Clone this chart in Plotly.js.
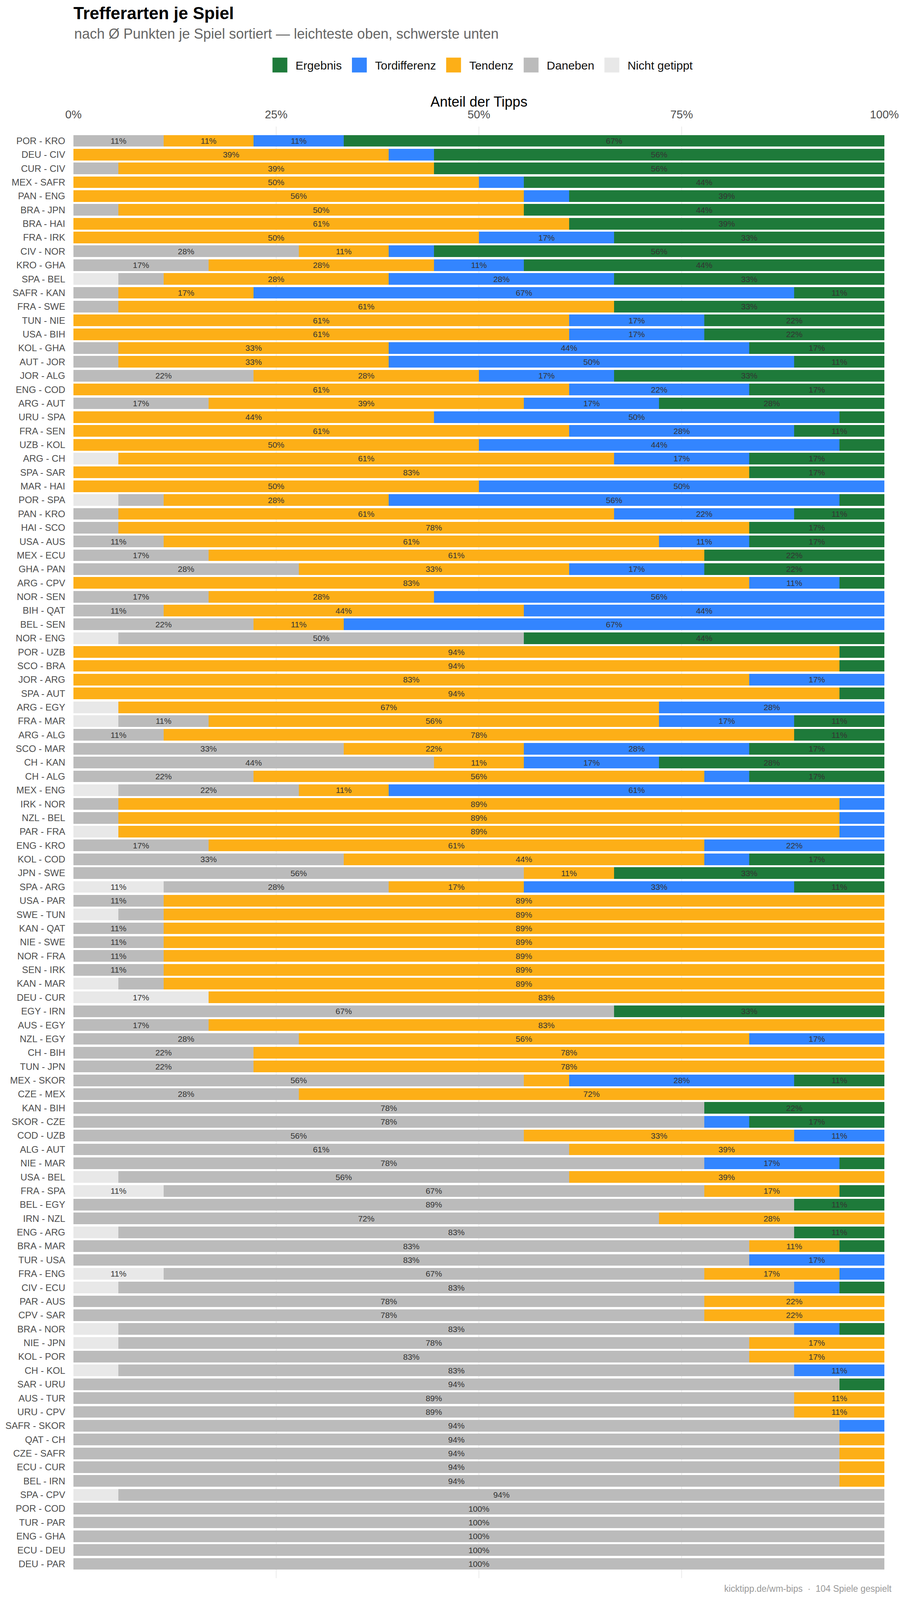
<!DOCTYPE html>
<html>
<head>
<meta charset="utf-8">
<script src="https://cdn.plot.ly/plotly-3.0.1.min.js"></script>
<style>
  html, body { margin: 0; padding: 0; background: #fff; overflow: hidden; }
</style>
</head>
<body>
<div id="chart"></div>
<script>
// Tipps je Spiel (18 Mitspieler), von oben nach unten
var TIPPER = 18;

var games = [
  'POR - KRO','DEU - CIV','CUR - CIV','MEX - SAFR','PAN - ENG','BRA - JPN','BRA - HAI','FRA - IRK','CIV - NOR','KRO - GHA','SPA - BEL','SAFR - KAN',
  'FRA - SWE','TUN - NIE','USA - BIH','KOL - GHA','AUT - JOR','JOR - ALG','ENG - COD','ARG - AUT','URU - SPA','FRA - SEN','UZB - KOL','ARG - CH',
  'SPA - SAR','MAR - HAI','POR - SPA','PAN - KRO','HAI - SCO','USA - AUS','MEX - ECU','GHA - PAN','ARG - CPV','NOR - SEN','BIH - QAT','BEL - SEN',
  'NOR - ENG','POR - UZB','SCO - BRA','JOR - ARG','SPA - AUT','ARG - EGY','FRA - MAR','ARG - ALG','SCO - MAR','CH - KAN','CH - ALG','MEX - ENG',
  'IRK - NOR','NZL - BEL','PAR - FRA','ENG - KRO','KOL - COD','JPN - SWE','SPA - ARG','USA - PAR','SWE - TUN','KAN - QAT','NIE - SWE','NOR - FRA',
  'SEN - IRK','KAN - MAR','DEU - CUR','EGY - IRN','AUS - EGY','NZL - EGY','CH - BIH','TUN - JPN','MEX - SKOR','CZE - MEX','KAN - BIH','SKOR - CZE',
  'COD - UZB','ALG - AUT','NIE - MAR','USA - BEL','FRA - SPA','BEL - EGY','IRN - NZL','ENG - ARG','BRA - MAR','TUR - USA','FRA - ENG','CIV - ECU',
  'PAR - AUS','CPV - SAR','BRA - NOR','NIE - JPN','KOL - POR','CH - KOL','SAR - URU','AUS - TUR','URU - CPV','SAFR - SKOR','QAT - CH','CZE - SAFR',
  'ECU - CUR','BEL - IRN','SPA - CPV','POR - COD','TUR - PAR','ENG - GHA','ECU - DEU','DEU - PAR'
];

var nichtGetippt = [
  0,0,0,0,0,0,0,0,0,0,1,0,
  0,0,0,0,0,0,0,0,0,0,0,1,
  0,0,1,0,0,0,0,0,0,0,0,0,
  1,0,0,0,0,1,1,0,0,0,0,1,
  0,0,1,0,0,0,2,0,1,0,0,0,
  0,1,3,0,0,0,0,0,0,0,0,0,
  0,0,0,1,2,0,0,1,0,0,2,1,
  0,0,1,1,0,1,0,0,0,0,0,0,
  0,0,1,0,0,0,0,0
];
var daneben = [
  2,0,1,0,0,1,0,0,5,3,1,1,
  1,0,0,1,1,4,0,3,0,0,0,0,
  0,0,1,1,1,2,3,5,0,3,2,4,
  9,0,0,0,0,0,2,2,6,8,4,4,
  1,1,0,3,6,10,5,2,1,2,2,2,
  2,1,0,12,3,5,4,4,10,5,14,14,
  10,11,14,10,12,16,13,15,15,15,12,15,
  14,14,15,14,15,15,17,16,16,17,17,17,
  17,17,17,18,18,18,18,18
];
var tendenz = [
  2,7,7,9,10,9,11,9,2,5,5,3,
  11,11,11,6,6,5,11,7,8,11,9,11,
  15,9,5,11,14,11,11,6,15,5,8,2,
  0,17,17,15,17,12,10,14,4,2,10,2,
  16,16,16,11,8,2,3,16,16,16,16,16,
  16,16,15,0,15,10,14,14,1,13,0,0,
  6,7,0,7,3,0,5,0,2,0,3,0,
  4,4,0,3,3,0,0,2,2,0,1,1,
  1,1,0,0,0,0,0,0
];
var tordifferenz = [
  2,1,0,1,1,0,0,3,1,2,5,12,
  0,3,3,8,9,3,4,3,9,5,8,3,
  0,9,10,4,0,2,0,3,2,10,8,12,
  0,0,0,3,0,5,3,0,5,3,1,11,
  1,1,1,4,1,0,6,0,0,0,0,0,
  0,0,0,0,0,3,0,0,5,0,0,1,
  2,0,3,0,0,0,0,0,0,3,1,1,
  0,0,1,0,0,2,0,0,0,1,0,0,
  0,0,0,0,0,0,0,0
];
var ergebnis = [
  12,10,10,8,7,8,7,6,10,8,6,2,
  6,4,4,3,2,6,3,5,1,2,1,3,
  3,0,1,2,3,3,4,4,1,0,0,0,
  8,1,1,0,1,0,2,2,3,5,3,0,
  0,0,0,0,3,6,2,0,0,0,0,0,
  0,0,0,6,0,0,0,0,2,0,4,3,
  0,0,1,0,1,2,0,2,1,0,0,1,
  0,0,1,0,0,0,1,0,0,0,0,0,
  0,0,0,0,0,0,0,0
];

var FONT = 'Liberation Sans, Arial, Helvetica, sans-serif';

// Entwurf fuer 2304x4392; das Fenster kann kleiner sein -> an Fenster anpassen
var REF_W = 2304, REF_H = 4392;
var W = window.innerWidth || REF_W;
var H = window.innerHeight || REF_H;
var sx = W / REF_W, sy = H / REF_H;

var PLOT_TOP = 347, PLOT_BOTTOM = 4332;   // in Entwurfs-Pixeln
function paperY(px) { return (PLOT_BOTTOM - px) / (PLOT_BOTTOM - PLOT_TOP); }

function makeTrace(name, counts, color, rank) {
  return {
    type: 'bar',
    orientation: 'h',
    name: name,
    y: games,
    x: counts.map(function(c) { return c / TIPPER; }),
    text: counts.map(function(c) { return c >= 2 ? Math.round(100 * c / TIPPER) + '%' : ''; }),
    textposition: 'inside',
    insidetextanchor: 'middle',
    textangle: 0,
    textfont: { family: FONT, size: 21, color: '#333333' },
    marker: { color: color, line: { width: 0 } },
    legendrank: rank,
    hoverinfo: 'skip'
  };
}

var data = [
  makeTrace('Nicht getippt', nichtGetippt, '#e8e8e8', 5),
  makeTrace('Daneben', daneben, '#bbbbbb', 4),
  makeTrace('Tendenz', tendenz, '#fdaf17', 3),
  makeTrace('Tordifferenz', tordifferenz, '#3385ff', 2),
  makeTrace('Ergebnis', ergebnis, '#1e7a3a', 1)
];

var layout = {
  width: W,
  height: H,
  barmode: 'stack',
  bargap: 0.156,
  paper_bgcolor: '#ffffff',
  plot_bgcolor: '#ffffff',
  font: { family: FONT, color: '#222222' },
  margin: { l: 188 * sx, r: 40 * sx, t: PLOT_TOP * sy, b: (REF_H - PLOT_BOTTOM) * sy, pad: 0 },
  title: {
    text: '<b>Trefferarten je Spiel</b>',
    font: { family: FONT, size: 44, color: '#000000' },
    xref: 'paper', x: 0, xanchor: 'left',
    yref: 'container', y: 1 - 20 / REF_H, yanchor: 'top'
  },
  legend: {
    orientation: 'h',
    xref: 'paper', x: 0.501, xanchor: 'center',
    yref: 'paper', y: paperY(178), yanchor: 'middle',
    font: { family: FONT, size: 30, color: '#111111' },
    itemwidth: 70,
    traceorder: 'normal'
  },
  xaxis: {
    side: 'top',
    range: [0, 1],
    tickvals: [0, 0.25, 0.5, 0.75, 1],
    tickformat: '.0%',
    tickfont: { family: FONT, size: 29, color: '#4d4d4d' },
    ticklabelstandoff: 14,
    showgrid: true,
    gridcolor: '#ebebeb',
    gridwidth: 2.5,
    zeroline: false,
    showline: false,
    ticks: '',
    fixedrange: true
  },
  yaxis: {
    type: 'category',
    range: [games.length - 1 + 1.03, -1.03],
    tickfont: { family: FONT, size: 24, color: '#4d4d4d' },
    showgrid: false,
    zeroline: false,
    showline: false,
    ticks: '',
    ticklabelstandoff: 20,
    fixedrange: true
  },
  annotations: [{
    text: 'nach Ø Punkten je Spiel sortiert — leichteste oben, schwerste unten',
    xref: 'paper', x: 0, xanchor: 'left',
    yref: 'paper', y: paperY(92), yanchor: 'middle',
    showarrow: false,
    font: { family: FONT, size: 36, color: '#666666' }
  }, {
    // Achsentitel der x-Achse (oben)
    text: 'Anteil der Tipps',
    xref: 'paper', x: 0.5, xanchor: 'center',
    yref: 'paper', y: paperY(279), yanchor: 'middle',
    showarrow: false,
    font: { family: FONT, size: 36, color: '#000000' }
  }, {
    text: 'kicktipp.de/wm-bips  ·  104 Spiele gespielt',
    xref: 'paper', x: 1.0101, xanchor: 'right',
    yref: 'paper', y: paperY(4361), yanchor: 'middle',
    showarrow: false,
    font: { family: FONT, size: 23, color: '#999999' }
  }],
  hovermode: false
};

Plotly.newPlot('chart', data, layout, { displayModeBar: false, staticPlot: true }).then(function(gd) {
  // grosse quadratische Legendenfelder wie im Original
  var half = Math.round(20 * sy);
  gd.querySelectorAll('.legend .legendpoints path').forEach(function(p) {
    p.setAttribute('d', 'M' + half + ',' + half + 'H-' + half + 'V-' + half + 'H' + half + 'Z');
  });
});
</script>
</body>
</html>
